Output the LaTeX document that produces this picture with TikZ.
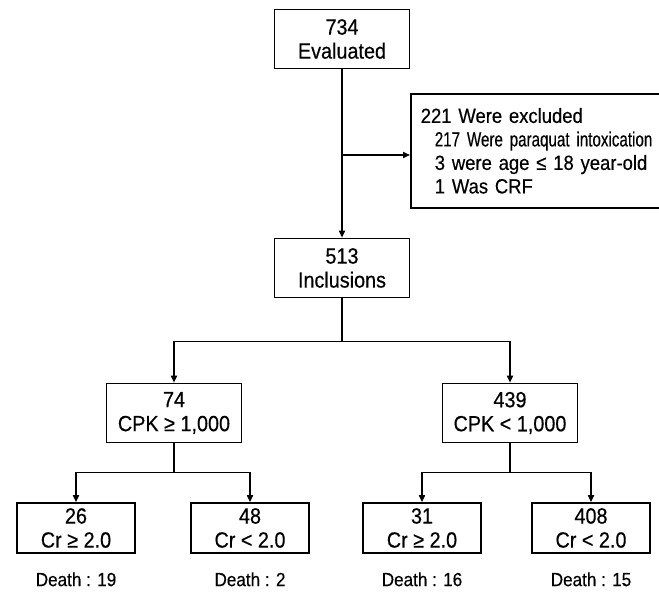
\documentclass[tikz,border=0pt]{standalone}
\usepackage{fontspec}
\setmainfont{Liberation Sans}[FakeStretch=0.9, FakeBold=0.4]
\newfontfamily\tightfont{Liberation Sans}[FakeStretch=0.74, FakeBold=0.4]
\usepackage{tikz}
\usetikzlibrary{arrows.meta, positioning}

\begin{document}
\begin{tikzpicture}[
    x=1pt, y=-1pt,
    box/.style={rectangle, draw, line width=1.6pt, align=center, font=\fontsize{22}{24}\selectfont, inner sep=0pt, minimum width=135pt, minimum height=59pt},
    smallbox/.style={box, minimum width=118pt, minimum height=50pt},
    death/.style={font=\fontsize{19}{22}\selectfont},
    arrow/.style={-{Triangle[length=7pt,width=6pt]}, line width=1.6pt}
]
\useasboundingbox (0,0) rectangle (659,594);

\node[box] (eval) at (342,39) {734\\Evaluated};
\node[box, minimum width=252pt, minimum height=114pt, anchor=north west, align=left, inner xsep=10pt, text width=232pt, font=\fontsize{20.5}{23.5}\selectfont] (excl) at (410,93)
  {221 Were excluded\\
   \hspace*{14pt}\mbox{\tightfont 217 Were paraquat intoxication}\\
   \hspace*{14pt}\mbox{3 were age ≤ 18 year-old}\\
   \hspace*{14pt}1 Was CRF};
\node[box] (incl) at (342,268) {513\\Inclusions};

\node[box] (cpkhi) at (174,413) {74\\CPK ≥ 1,000};
\node[box] (cpklo) at (510,413) {439\\CPK < 1,000};

\node[smallbox] (crhia) at (76,528) {26\\Cr ≥ 2.0};
\node[smallbox] (crloa) at (250,528) {48\\Cr < 2.0};
\node[smallbox] (crhib) at (422,528) {31\\Cr ≥ 2.0};
\node[smallbox] (crlob) at (591,528) {408\\Cr < 2.0};

\node[death, below=15pt of crhia] (dtha) {Death : 19};
\node[death, below=15pt of crloa] (dthb) {Death : 2};
\node[death, below=15pt of crhib] (dthc) {Death : 16};
\node[death, below=15pt of crlob] (dthd) {Death : 15};

% trunk and exclusions
\draw[arrow] (eval) -- (incl);
\coordinate (tap) at (342,155);
\draw[arrow] (tap) -- (tap -| excl.west);

% split by CPK
\draw[arrow] (incl.south) -- ++(0,43) -| (cpkhi.north);
\draw[arrow] (incl.south) -- ++(0,43) -| (cpklo.north);

% split by Cr
\draw[arrow] (cpkhi.south) -- ++(0,29) -| (crhia.north);
\draw[arrow] (cpkhi.south) -- ++(0,29) -| (crloa.north);
\draw[arrow] (cpklo.south) -- ++(0,29) -| (crhib.north);
\draw[arrow] (cpklo.south) -- ++(0,29) -| (crlob.north);
\end{tikzpicture}
\end{document}
